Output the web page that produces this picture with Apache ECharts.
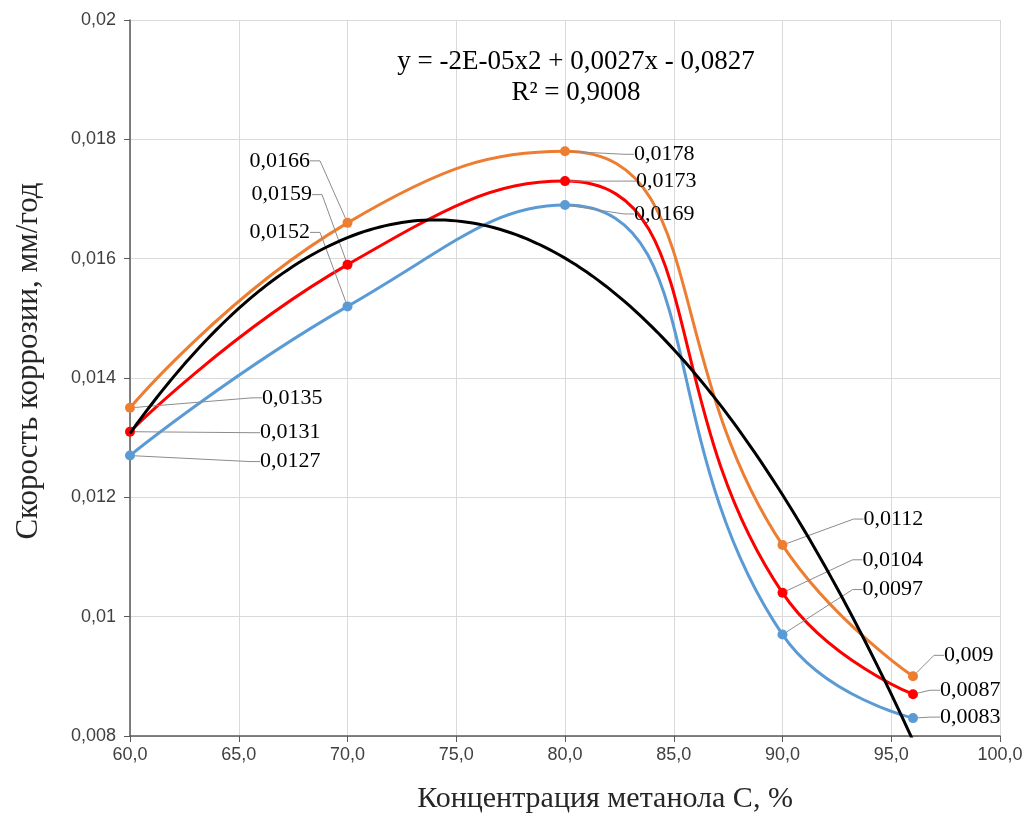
<!DOCTYPE html>
<html><head><meta charset="utf-8">
<script src="https://cdn.jsdelivr.net/npm/echarts@6/dist/echarts.min.js"></script>
<style>html,body{margin:0;padding:0;background:#fff}#c{width:1030px;height:816px}</style>
</head><body><div id="c"></div><script>
// ---- data ----
const xValues = [60, 70, 80, 90, 96];
const orangeValues = [0.0135, 0.0166, 0.0178, 0.0112, 0.009];
const redValues = [0.0131, 0.0159, 0.0173, 0.0104, 0.0087];
const blueValues = [0.0127, 0.0152, 0.0169, 0.0097, 0.0083];
const xAxisRange = [60, 100, 5];
const yAxisRange = [0.008, 0.02, 0.002];
const equationText = 'y = -2E-05x2 + 0,0027x - 0,0827';
const r2Text = 'R² = 0,9008';
const xTitle = 'Концентрация метанола С, %';
const yTitle = 'Скорость коррозии, мм/год';

// ---- trendline: least-squares quadratic fit of the red series (as Excel does) ----
function polyfit2(xs, ys) {
  let S = [0,0,0,0,0], T = [0,0,0];
  for (let i = 0; i < xs.length; i++) {
    const x = xs[i] - 80;
    for (let k = 0; k < 5; k++) S[k] += Math.pow(x, k);
    for (let k = 0; k < 3; k++) T[k] += ys[i] * Math.pow(x, k);
  }
  const A = [[S[0],S[1],S[2],T[0]],[S[1],S[2],S[3],T[1]],[S[2],S[3],S[4],T[2]]];
  for (let i = 0; i < 3; i++) {
    for (let j = i + 1; j < 3; j++) {
      const f = A[j][i] / A[i][i];
      for (let k = i; k < 4; k++) A[j][k] -= f * A[i][k];
    }
  }
  const c = [0,0,0];
  for (let i = 2; i >= 0; i--) {
    let s = A[i][3];
    for (let k = i + 1; k < 3; k++) s -= A[i][k] * c[k];
    c[i] = s / A[i][i];
  }
  return x => c[0] + c[1]*(x-80) + c[2]*(x-80)*(x-80);
}
const trend = polyfit2(xValues, redValues);
const trendData = [];
for (let x = xValues[0]; x <= xValues[xValues.length-1] + 1e-9; x += 0.25) trendData.push([x, trend(x)]);

// ---- label placement (pixel offsets from each marker) ----
const labelOffsets = [
  [[132,-10],[-98,-62],[69,3],[81,-26],[31,-21]],
  [[130,1],[-96,-70],[71,0],[80,-33],[27,-4]],
  [[130,6],[-98,-74],[69,9],[80,-45],[27,-1]]
];
const colors = ['#ED7D31', '#FF0000', '#5B9BD5'];
const seriesValues = [orangeValues, redValues, blueValues];

const comma = v => String(parseFloat(v.toFixed(6))).replace('.', ',');

const dataSeries = seriesValues.map((vals, si) => ({
  type: 'line',
  smooth: 0.5,
  data: xValues.map((x, i) => [x, vals[i]]),
  symbol: 'circle',
  symbolSize: 10,
  itemStyle: { color: colors[si] },
  lineStyle: { color: colors[si], width: 3 },
  z: 3,
  label: {
    show: true,
    formatter: p => comma(p.value[1]),
    fontFamily: 'Liberation Serif',
    fontSize: 22,
    color: '#000'
  },
  labelLine: { show: true, length2: 10, lineStyle: { color: '#8c8c8c', width: 1 } },
  labelLayout: p => {
    const o = labelOffsets[si][p.dataIndex];
    const cx = p.rect.x + p.rect.width / 2, cy = p.rect.y + p.rect.height / 2;
    return { x: cx + o[0], y: cy + o[1], align: 'left', verticalAlign: 'middle' };
  }
}));

const chart = echarts.init(document.getElementById('c'), null, { renderer: 'canvas' });
chart.setOption({
  animation: false,
  backgroundColor: '#fff',
  grid: { left: 130, right: 30, top: 20, bottom: 80, outerBoundsMode: 'none', containLabel: false },
  xAxis: {
    type: 'value', min: xAxisRange[0], max: xAxisRange[1], interval: xAxisRange[2],
    name: xTitle, nameLocation: 'middle', nameGap: 48,
    nameTextStyle: { fontFamily: 'Liberation Serif', fontSize: 30, color: '#262626', padding: [0, 0, 0, 80] },
    axisLine: { show: true, lineStyle: { color: '#595959', width: 1.5 } },
    axisTick: { show: true, inside: false, length: 6, lineStyle: { color: '#595959' } },
    axisLabel: { formatter: v => v.toFixed(1).replace('.', ','), fontFamily: 'Liberation Sans', fontSize: 18, color: '#404040', margin: 10 },
    splitLine: { show: true, lineStyle: { color: '#d9d9d9', width: 1 } }
  },
  yAxis: {
    type: 'value', min: yAxisRange[0], max: yAxisRange[1], interval: yAxisRange[2],
    name: yTitle, nameLocation: 'middle', nameGap: 86, nameRotate: 90,
    nameTextStyle: { fontFamily: 'Liberation Serif', fontSize: 31, color: '#262626', padding: [0, 0, 0, 34] },
    axisLine: { show: true, lineStyle: { color: '#595959', width: 1.5 } },
    axisTick: { show: true, inside: false, length: 6, lineStyle: { color: '#595959' } },
    axisLabel: { formatter: v => comma(v), fontFamily: 'Liberation Sans', fontSize: 18, color: '#404040', margin: 14 },
    splitLine: { show: true, lineStyle: { color: '#d9d9d9', width: 1 } }
  },
  graphic: [
    { type: 'text', z: 10, style: { x: 576, y: 62, text: equationText, fontFamily: 'Liberation Serif', fontSize: 27, fill: '#000', align: 'center', verticalAlign: 'middle' } },
    { type: 'text', z: 10, style: { x: 576, y: 93, text: r2Text, fontFamily: 'Liberation Serif', fontSize: 27, fill: '#000', align: 'center', verticalAlign: 'middle' } }
  ],
  series: dataSeries.concat([{
    type: 'line',
    data: trendData,
    showSymbol: false,
    symbol: 'none',
    smooth: false,
    lineStyle: { color: '#000', width: 3 },
    z: 4,
    silent: true
  }])
});
</script></body></html>
